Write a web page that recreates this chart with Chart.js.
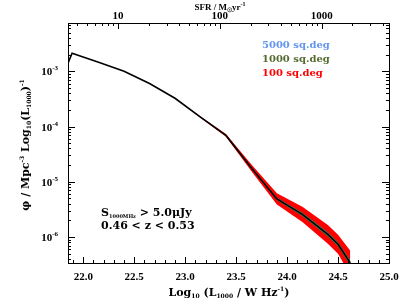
<!DOCTYPE html>
<html>
<head>
<meta charset="utf-8">
<script src="https://cdn.jsdelivr.net/npm/chart.js@4.4.0/dist/chart.umd.min.js"></script>
<style>
html, body { margin: 0; padding: 0; background: #fff; }
#wrap { width: 409px; height: 307px; }
</style>
</head>
<body>
<div id="wrap"><canvas id="myChart"></canvas></div>
<script>
// luminosity bins, log10(L1000 / W Hz^-1)
var lum = [21.85, 21.89, 22.15, 22.4, 22.65, 22.9, 23.15, 23.4, 23.65, 23.9, 24.15, 24.4, 24.5, 24.62];
// luminosity function phi (Mpc^-3 dex^-1)
var phi = [1.4e-3, 2.12e-3, 1.45e-3, 1.0e-3, 6.0e-4, 3.24e-4, 1.48e-4, 6.9e-5, 1.78e-5, 4.9e-6, 2.57e-6, 1.12e-6, 7.4e-7, 3.4e-7];
// half width of the uncertainty band (dex) for each survey area
var err100  = [0, 0, 0, 0, 0, 0, 0.01, 0.025, 0.06, 0.1, 0.14, 0.17, 0.17, 0.22];
var err1000 = [0, 0, 0, 0, 0, 0, 0.002, 0.006, 0.015, 0.025, 0.035, 0.042, 0.042, 0.055];
var err5000 = [0, 0, 0, 0, 0, 0, 0.001, 0.003, 0.007, 0.011, 0.016, 0.019, 0.019, 0.025];

// tick labels
var xTicks = [22.0, 22.5, 23.0, 23.5, 24.0, 24.5, 25.0];
var yTicks = [-3, -4, -5, -6];
var sfrTicks = [10, 100, 1000];
var sfrOffset = 21.34; // log SFR = log L - sfrOffset

var areaLabels = ['5000 sq.deg', '1000 sq.deg', '100 sq.deg'];
var areaColors = ['#6495ED', '#556B2F', '#FF0000'];

function band(err, sign) {
    return lum.map(function (x, i) {
        return { x: x, y: phi[i] * Math.pow(10, sign * err[i]) };
    });
}

var none = 'rgba(0,0,0,0)';
var datasets = [
    { data: lum.map(function (x, i) { return { x: x, y: phi[i] }; }), borderColor: '#000', borderWidth: 1.6, fill: false, order: 0 },
    { data: band(err100, 1), borderColor: none, borderWidth: 0, fill: false, order: 3 },
    { data: band(err100, -1), borderColor: none, borderWidth: 0, backgroundColor: areaColors[2], fill: 1, order: 3 },
    { data: band(err1000, 1), borderColor: none, borderWidth: 0, fill: false, order: 2 },
    { data: band(err1000, -1), borderColor: none, borderWidth: 0, backgroundColor: areaColors[1], fill: 3, order: 2 },
    { data: band(err5000, 1), borderColor: none, borderWidth: 0, fill: false, order: 1 },
    { data: band(err5000, -1), borderColor: none, borderWidth: 0, backgroundColor: areaColors[0], fill: 5, order: 1 }
];

var tickFont = '"Liberation Serif", "DejaVu Serif", serif';
var textFont = '"DejaVu Serif", serif';

// draws text with sub/superscript pieces
function rich(c, parts, x, y, size, align, weight, family, small) {
    small = small || 0.62;
    function fontFor(k) {
        return weight + ' ' + (k === 'n' ? size : Math.round(size * small)) + 'px ' + family;
    }
    var w = 0;
    parts.forEach(function (p) { c.font = fontFor(p[1]); w += c.measureText(p[0]).width; });
    var cx = align === 'center' ? x - w / 2 : (align === 'right' ? x - w : x);
    c.textAlign = 'left';
    c.textBaseline = 'alphabetic';
    parts.forEach(function (p) {
        c.font = fontFor(p[1]);
        var dy = p[1] === 'sub' ? size * 0.2 : (p[1] === 'sup' ? -size * 0.45 : 0);
        c.fillText(p[0], cx, y + dy);
        cx += c.measureText(p[0]).width;
    });
}

var frame = {
    id: 'frame',
    afterDraw: function (chart) {
        var c = chart.ctx, a = chart.chartArea, xs = chart.scales.x, ys = chart.scales.y;
        c.save();
        c.strokeStyle = '#000';
        c.lineWidth = 1;
        c.strokeRect(Math.round(a.left) + 0.5, Math.round(a.top) + 0.5, Math.round(a.right - a.left), Math.round(a.bottom - a.top));
        c.beginPath();
        // bottom axis: minor ticks every 0.1
        for (var k = 219; k <= 250; k++) {
            var px = Math.round(xs.getPixelForValue(k / 10)) + 0.5;
            var len = (k % 5 === 0) ? 6 : 3;
            c.moveTo(px, a.bottom); c.lineTo(px, a.bottom - len);
        }
        // top axis: SFR, log ticks
        for (var d = 0; d <= 3; d++) {
            for (var m = 1; m <= 9; m++) {
                var L = Math.log10(m * Math.pow(10, d)) + sfrOffset;
                if (L < xs.min || L > xs.max) continue;
                var tx = Math.round(xs.getPixelForValue(L)) + 0.5;
                var tl = (m === 1) ? 6 : 3;
                c.moveTo(tx, a.top); c.lineTo(tx, a.top + tl);
            }
        }
        // left and right axes: log ticks
        for (var e = -7; e <= -2; e++) {
            for (var n = 1; n <= 9; n++) {
                var v = n * Math.pow(10, e);
                if (v < ys.min || v > ys.max) continue;
                var py = Math.round(ys.getPixelForValue(v)) + 0.5;
                var yl = (n === 1) ? 7 : 3;
                c.moveTo(a.left, py); c.lineTo(a.left + yl, py);
                c.moveTo(a.right, py); c.lineTo(a.right - yl, py);
            }
        }
        c.stroke();

        c.fillStyle = '#000';
        c.font = 'bold 11px ' + tickFont;
        c.textAlign = 'center';
        c.textBaseline = 'alphabetic';
        xTicks.forEach(function (t) {
            c.fillText(t.toFixed(1), xs.getPixelForValue(t), 280);
        });
        sfrTicks.forEach(function (s) {
            c.fillText(String(s), xs.getPixelForValue(Math.log10(s) + sfrOffset), 19);
        });
        yTicks.forEach(function (e) {
            var py = ys.getPixelForValue(Math.pow(10, e));
            rich(c, [['10', 'n'], ['-' + (-e), 'sup']], a.left - 10, py + 4, 11, 'right', 'bold', tickFont);
        });

        // axis titles
        rich(c, [['SFR / M', 'n'], ['\u2609', 'sub'], ['yr', 'n'], ['-1', 'sup']], 220, 10, 9, 'center', 'bold', tickFont);
        rich(c, [['Log', 'n'], ['10', 'sub'], [' (L', 'n'], ['1000', 'sub'], [' / W Hz', 'n'], ['-1', 'sup'], [')', 'n']], 229, 296, 11, 'center', 'bold', textFont, 0.55);
        c.save();
        c.translate(29, 145);
        c.rotate(-Math.PI / 2);
        rich(c, [['\u03c6 / Mpc', 'n'], ['-3', 'sup'], [' Log', 'n'], ['10', 'sub'], ['(L', 'n'], ['1000', 'sub'], [')', 'n'], ['-1', 'sup']], 0, 0, 11, 'center', 'bold', textFont, 0.55);
        c.restore();

        // survey areas
        areaLabels.forEach(function (t, i) {
            c.fillStyle = areaColors[i];
            c.font = 'bold 10px ' + textFont;
            c.textAlign = 'left';
            c.fillText(t, 262, 48 + i * 14);
        });

        // selection
        c.fillStyle = '#000';
        rich(c, [['S', 'n'], ['1000MHz', 'sub'], [' > 5.0\u03bcJy', 'n']], 101, 216, 11, 'left', 'bold', textFont, 0.42);
        rich(c, [['0.46 < z < 0.53', 'n']], 101, 229, 11, 'left', 'bold', textFont);
        c.restore();
    }
};

var ctx = document.getElementById('myChart').getContext('2d');
var myChart = new Chart(ctx, {
    type: 'line',
    data: { datasets: datasets },
    options: {
        responsive: true,
        maintainAspectRatio: false,
        animation: false,
        layout: { padding: { left: 68, right: 20, top: 23, bottom: 44 } },
        elements: { point: { radius: 0 }, line: { tension: 0 } },
        plugins: { legend: { display: false }, tooltip: { enabled: false } },
        scales: {
            x: { type: 'linear', min: 21.85, max: 25.0, display: false },
            y: { type: 'logarithmic', min: Math.pow(10, -6.47), max: Math.pow(10, -2.127), display: false }
        }
    },
    plugins: [frame]
});
</script>
</body>
</html>
